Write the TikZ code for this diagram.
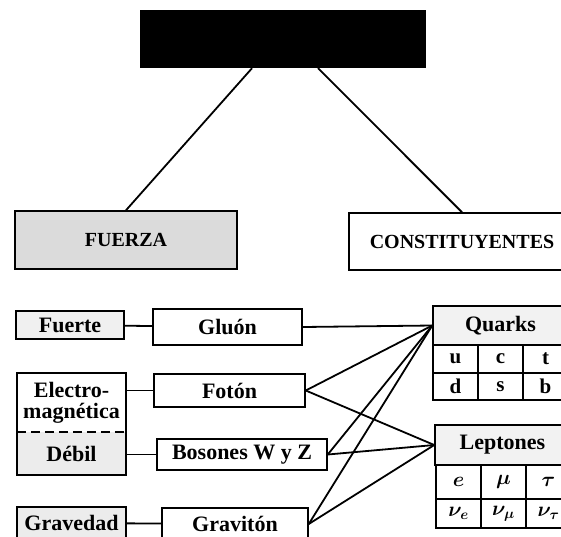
\documentclass[tikz,border=0pt]{standalone}
\usepackage{fontspec}
\setmainfont{Liberation Serif}
\usepackage{tikz}
\usetikzlibrary{positioning}

\begin{document}
\begin{tikzpicture}[x=1pt, y=-1pt,
  every node/.style={font=\fontsize{22}{22}\selectfont\bfseries, inner sep=0pt},
  box/.style={draw, line width=1.5pt, rectangle, align=center},
  cell/.style={draw, line width=1.5pt, minimum width=45pt, font=\fontsize{21}{21}\selectfont\bfseries\boldmath},
  link/.style={line width=1.8pt}]
\useasboundingbox (0,0) rectangle (561,536);
\clip (0,0) rectangle (561,536);
% top level
\node[fill=black, minimum width=286pt, minimum height=58pt] (title) at (283,39) {};
\node[box, fill=gray!28, minimum width=222pt, minimum height=58pt, font=\fontsize{20}{20}\selectfont\bfseries] (fuerza) at (126,240) {FUERZA};
\node[box, minimum width=226pt, minimum height=57pt, font=\fontsize{20}{20}\selectfont\bfseries] (const) at (462,241.5) {CONSTITUYENTES};
\draw[link] ([xshift=-31pt]title.south) -- (fuerza.north);
\draw[link] ([xshift=35pt]title.south) -- (const.north);
% forces
\node[box, fill=gray!12, minimum width=108pt, minimum height=28pt] (fuerte) at (70,325) {Fuerte};
\node[minimum width=109pt, minimum height=59pt, align=center] (em) at (71.5,402.5) {Electro-\\[-1pt]magnética};
\node[fill=gray!15, minimum width=109pt, minimum height=43pt] (debil) at (71.5,453.5) {Débil};
\draw[line width=1.5pt] (em.north west) rectangle (debil.south east);
\draw[line width=1.5pt, dash pattern=on 9pt off 5pt] (em.south west) -- (em.south east);
\node[box, fill=gray!15, minimum width=109pt, minimum height=32pt] (gravedad) at (71.5,523) {Gravedad};
% carriers
\node[box, minimum width=149pt, minimum height=36pt] (gluon) at (227.5,327) {Gluón};
\node[box, minimum width=151pt, minimum height=33pt] (foton) at (229.5,390.5) {Fotón};
\node[box, minimum width=170pt, minimum height=31pt] (bosones) at (242,454.5) {Bosones W y Z};
\node[box, minimum width=146pt, minimum height=32pt] (graviton) at (235,524) {Gravitón};
\draw[link] (fuerte) -- (gluon);
\draw[link] (foton.west) -- (foton.west -| em.east);
\draw[link] (bosones.west) -- (bosones.west -| debil.east);
\draw[link] (gravedad) -- (graviton);
% constituents
\node[box, fill=gray!10, minimum width=135pt, minimum height=39pt] (quarks) at (500.5,325.5) {Quarks};
\foreach \c/\x/\a/\b in {1/455.5/u/d, 2/500.5/c/s, 3/545.5/t/b}{
  \node[cell, minimum height=28pt] (q1\c) at (\x,359) {\a};
  \node[cell, minimum height=27pt] (q2\c) at (\x,386.5) {\b};
}
\node[box, fill=gray!10, minimum width=135pt, minimum height=40pt] (leptones) at (502.5,445) {Leptones};
\foreach \c/\x/\a/\b in {1/458.5/e/\nu_e, 2/503.5/\mu/\nu_\mu, 3/548.5/\tau/\nu_\tau}{
  \node[cell, minimum height=34pt] (l1\c) at (\x,482) {$\a$};
  \node[cell, minimum height=29pt] (l2\c) at (\x,513.5) {$\b$};
}
% interactions
\draw[link] (gluon.east) -- (quarks.west);
\foreach \n in {foton, bosones, graviton}{
  \draw[link] (\n.east) -- (quarks.west);
  \draw[link] (\n.east) -- (leptones.west);
}
\end{tikzpicture}
\end{document}
